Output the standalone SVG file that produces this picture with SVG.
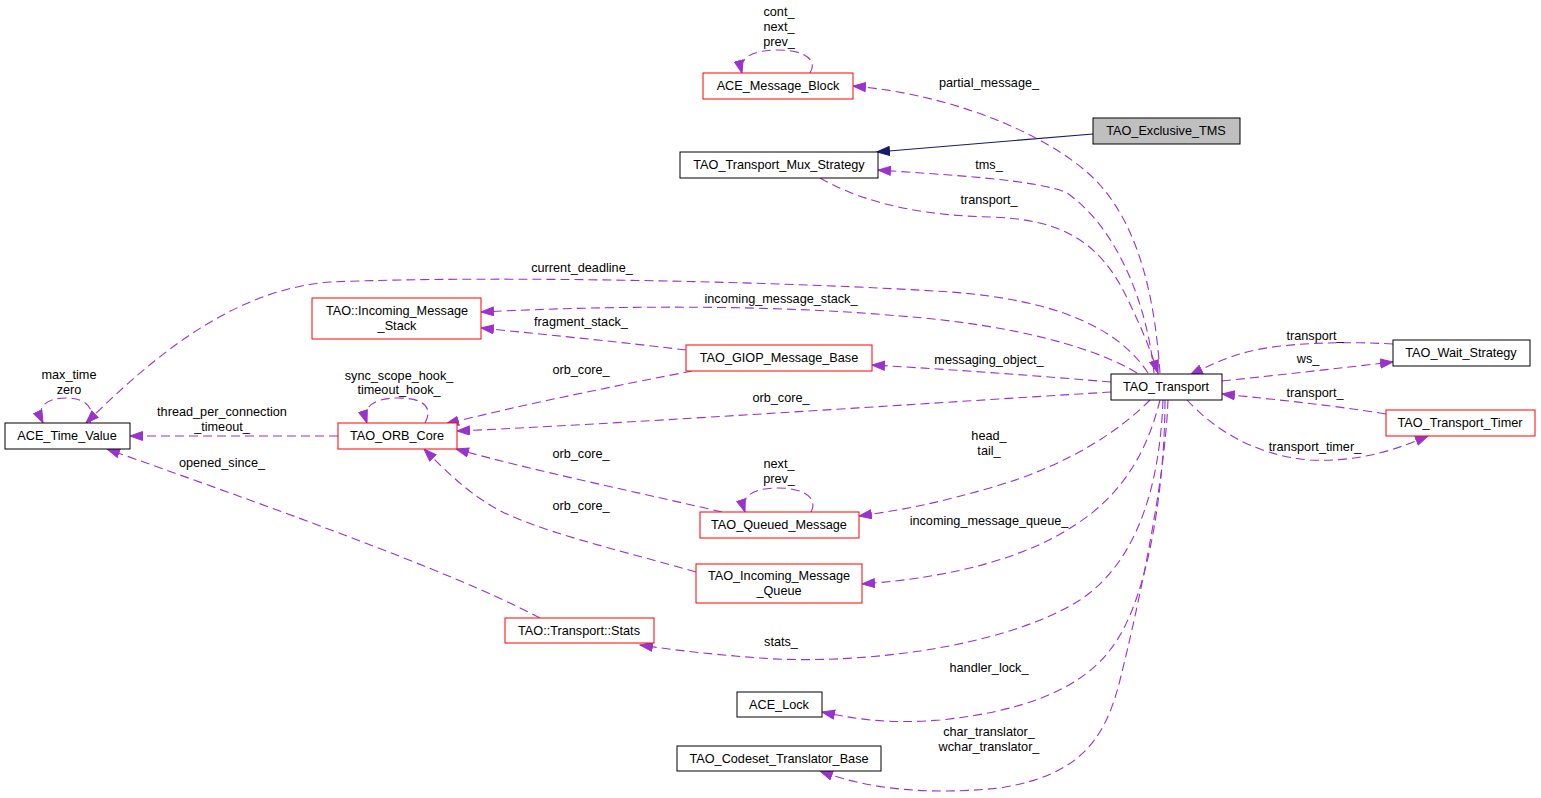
<svg xmlns="http://www.w3.org/2000/svg" width="1541" height="798" viewBox="0 0 1541 798">
<style>
text{font-family:"Liberation Sans",Arial,Helvetica,sans-serif;font-size:12.7px;fill:#000;text-anchor:middle}
.n{fill:#fff;stroke:#000;stroke-width:1}
.r{fill:#fff;stroke:#ff0000;stroke-width:1}
.g{fill:#bfbfbf;stroke:#000;stroke-width:1}
.e{fill:none;stroke:#9a32cd;stroke-width:1.1;stroke-dasharray:9,5;marker-end:url(#ap)}
.i{fill:none;stroke:#191970;stroke-width:1.1;marker-end:url(#ab)}
</style>
<defs>
<marker id="ap" markerUnits="userSpaceOnUse" markerWidth="15" markerHeight="12" refX="13" refY="5" orient="auto">
<path d="M0.5,0.5 L13,5 L0.5,9.5 z" fill="#9a32cd" stroke="#9a32cd"/>
</marker>
<marker id="ab" markerUnits="userSpaceOnUse" markerWidth="15" markerHeight="12" refX="13" refY="5" orient="auto">
<path d="M0.5,0.5 L13,5 L0.5,9.5 z" fill="#191970" stroke="#191970"/>
</marker>
</defs>
<rect width="1541" height="798" fill="#fff"/>
<g id="connectors">
<path class="i" d="M1093,134 L877,152"/>
<path class="e" d="M810,73 C818,60 805,50 778,50 C752,50 738,58 742,73"/>
<path class="e" d="M1160,373 C1155,300 1140,230 1100,185 C1060,140 960,95 853,86"/>
<path class="e" d="M1154,373 C1148,310 1120,230 1067,193 C1040,180 950,175 878,170"/>
<path class="e" d="M820,178 C850,195 900,215 990,217 C1060,219 1100,240 1128,300 C1145,335 1152,355 1158,373"/>
<path class="e" d="M1148,373 C1120,330 1060,300 950,292 C800,282 500,275 330,282 C230,290 150,360 86,423"/>
<path class="e" d="M1137,373 C1100,350 1020,325 900,316 C780,305 620,305 481,312"/>
<path class="e" d="M686,350 C620,342 550,335 481,328"/>
<path class="e" d="M1111,382 C1040,376 960,370 872,365"/>
<path class="e" d="M692,371 C620,385 520,405 446,424"/>
<path class="e" d="M1111,392 C900,405 600,425 457,431"/>
<path class="e" d="M338,436 L130,436"/>
<path class="e" d="M425,423 C432,410 428,398 398,398 C372,398 362,408 367,423"/>
<path class="e" d="M90,423 C95,410 88,398 66,398 C45,398 36,408 43,423"/>
<path class="e" d="M540,618 C450,570 250,500 107,449"/>
<path class="e" d="M722,512 C650,495 530,470 456,449"/>
<path class="e" d="M696,572 C620,550 530,530 490,505 C465,490 445,470 424,449"/>
<path class="e" d="M811,512 C818,499 806,488 778,488 C752,488 740,497 745,512"/>
<path class="e" d="M1150,400 C1120,430 1070,465 990,488 C940,502 910,509 859,516"/>
<path class="e" d="M1160,400 C1150,440 1130,490 1075,525 C1030,555 960,577 862,584"/>
<path class="e" d="M1163,400 C1160,480 1140,560 1080,600 C1000,650 850,665 760,658 C720,655 680,651 640,645"/>
<path class="e" d="M1165,400 C1165,480 1150,600 1110,650 C1080,690 1020,712 940,720 C890,724 860,720 822,712"/>
<path class="e" d="M1168,400 C1165,480 1140,600 1120,680 C1105,740 1080,775 1000,788 C930,795 870,790 820,771"/>
<path class="e" d="M1222,381 C1280,375 1340,368 1393,362"/>
<path class="e" d="M1393,344 C1340,341 1280,343 1247,352 C1225,358 1208,366 1190,375"/>
<path class="e" d="M1386,414 C1330,405 1280,400 1222,394"/>
<path class="e" d="M1187,400 C1210,425 1250,455 1310,460 C1360,462 1395,450 1428,436"/>
<text x="779" y="16">cont_</text>
<text x="779" y="31">next_</text>
<text x="779" y="46">prev_</text>
<text x="989" y="87">partial_message_</text>
<text x="989" y="169">tms_</text>
<text x="989" y="204">transport_</text>
<text x="582" y="272">current_deadline_</text>
<text x="781" y="303">incoming_message_stack_</text>
<text x="581" y="326">fragment_stack_</text>
<text x="989" y="364">messaging_object_</text>
<text x="581" y="374">orb_core_</text>
<text x="781" y="402">orb_core_</text>
<text x="399" y="380">sync_scope_hook_</text>
<text x="399" y="394">timeout_hook_</text>
<text x="69" y="379">max_time</text>
<text x="69" y="394">zero</text>
<text x="222" y="416">thread_per_connection</text>
<text x="222" y="431">_timeout_</text>
<text x="222" y="467">opened_since_</text>
<text x="581" y="458">orb_core_</text>
<text x="581" y="510">orb_core_</text>
<text x="779" y="468">next_</text>
<text x="779" y="483">prev_</text>
<text x="989" y="440">head_</text>
<text x="989" y="455">tail_</text>
<text x="989" y="525">incoming_message_queue_</text>
<text x="781" y="646">stats_</text>
<text x="989" y="672">handler_lock_</text>
<text x="989" y="736">char_translator_</text>
<text x="989" y="751">wchar_translator_</text>
<text x="1315" y="340">transport_</text>
<text x="1308" y="363">ws_</text>
<text x="1315" y="397">transport_</text>
<text x="1315" y="451">transport_timer_</text>
</g>
<g id="ACE_Message_Block"><rect class="r" x="703" y="73" width="150" height="26"/><text x="778" y="90">ACE_Message_Block</text></g>
<g id="TAO_Exclusive_TMS"><rect class="g" x="1093" y="118" width="147" height="26"/><text x="1166" y="135">TAO_Exclusive_TMS</text></g>
<g id="TAO_Transport_Mux_Strategy"><rect class="n" x="680" y="152" width="198" height="26"/><text x="779" y="169">TAO_Transport_Mux_Strategy</text></g>
<g id="TAO_Incoming_Message_Stack"><rect class="r" x="312" y="298" width="169" height="41"/><text x="397" y="315">TAO::Incoming_Message</text><text x="397" y="330">_Stack</text></g>
<g id="TAO_GIOP_Message_Base"><rect class="r" x="686" y="345" width="186" height="26"/><text x="779" y="362">TAO_GIOP_Message_Base</text></g>
<g id="TAO_Transport"><rect class="n" x="1111" y="374" width="111" height="26"/><text x="1166" y="391">TAO_Transport</text></g>
<g id="TAO_Wait_Strategy"><rect class="n" x="1393" y="340" width="137" height="26"/><text x="1461" y="357">TAO_Wait_Strategy</text></g>
<g id="TAO_Transport_Timer"><rect class="r" x="1386" y="410" width="149" height="26"/><text x="1460" y="427">TAO_Transport_Timer</text></g>
<g id="ACE_Time_Value"><rect class="n" x="5" y="423" width="125" height="26"/><text x="67" y="440">ACE_Time_Value</text></g>
<g id="TAO_ORB_Core"><rect class="r" x="338" y="423" width="119" height="26"/><text x="397" y="440">TAO_ORB_Core</text></g>
<g id="TAO_Queued_Message"><rect class="r" x="700" y="512" width="159" height="26"/><text x="779" y="529">TAO_Queued_Message</text></g>
<g id="TAO_Incoming_Message_Queue"><rect class="r" x="696" y="564" width="166" height="39"/><text x="779" y="580">TAO_Incoming_Message</text><text x="779" y="595">_Queue</text></g>
<g id="TAO_Transport_Stats"><rect class="r" x="505" y="618" width="149" height="25"/><text x="579" y="635">TAO::Transport::Stats</text></g>
<g id="ACE_Lock"><rect class="n" x="737" y="692" width="85" height="25"/><text x="779" y="709">ACE_Lock</text></g>
<g id="TAO_Codeset_Translator_Base"><rect class="n" x="677" y="746" width="204" height="25"/><text x="779" y="763">TAO_Codeset_Translator_Base</text></g>
</svg>
